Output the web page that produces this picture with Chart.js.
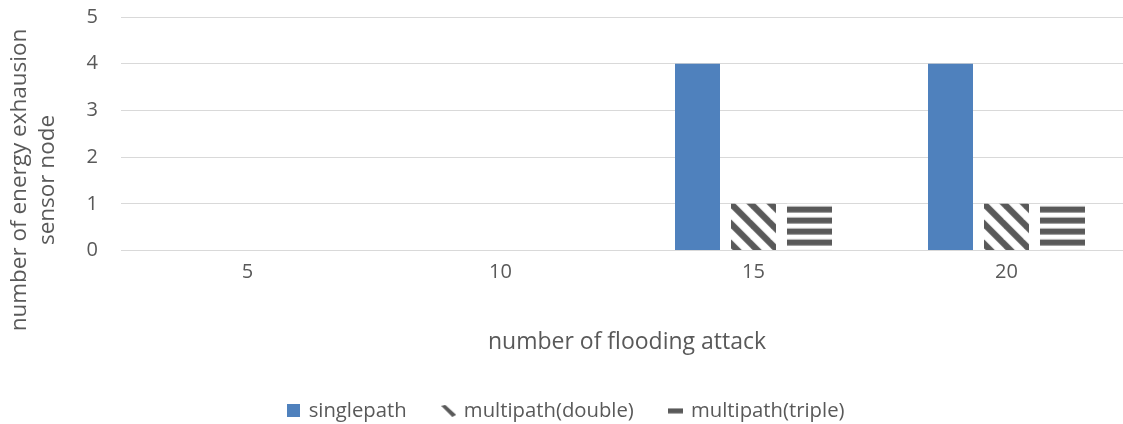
<!DOCTYPE html>
<html>
<head>
<meta charset="utf-8">
<title>Energy exhausted sensor nodes vs flooding attacks</title>
<script src="https://cdn.jsdelivr.net/npm/chart.js@4/dist/chart.umd.min.js"></script>
<style>
  html, body { margin: 0; padding: 0; background: #fff; overflow: hidden; }
  #wrap { position: relative; width: 1135px; height: 440px; }
</style>
</head>
<body>
<div id="wrap"><canvas id="c"></canvas></div>
<script>
// ---- data ----
const categories = ['5', '10', '15', '20'];
const singlepath = [0, 0, 4, 4];
const multipathDouble = [0, 0, 1, 1];
const multipathTriple = [0, 0, 1, 1];
const seriesNames = ['singlepath', 'multipath(double)', 'multipath(triple)'];
const yTickMin = 0, yTickMax = 5, yTickStep = 1;
const xTitle = 'number of flooding attack';
const yTitleLines = ['number of energy exhausion', 'sensor node'];

// ---- styles ----
const INK = '#595959';
const BLUE = '#4f81bd';
const GRID = '#d9d9d9';
const FONT = "'Open Sans', sans-serif";

function makeCanvas(w, h, paint) {
  const c = document.createElement('canvas');
  c.width = w; c.height = h;
  paint(c.getContext('2d'));
  return c;
}

// downward diagonal stripes (20px period along x)
const diagTile = makeCanvas(20, 20, g => {
  g.fillStyle = '#fff'; g.fillRect(0, 0, 20, 20);
  g.fillStyle = INK;
  for (let k = -2; k <= 1; k++) {
    const a = 15.5 + 20 * k;
    g.beginPath();
    g.moveTo(a, 0); g.lineTo(a + 9, 0); g.lineTo(a + 29, 20); g.lineTo(a + 20, 20);
    g.closePath(); g.fill();
  }
});

// horizontal stripes (11px period)
const horizTile = makeCanvas(4, 11, g => {
  g.fillStyle = '#fff'; g.fillRect(0, 0, 4, 11);
  g.fillStyle = INK; g.fillRect(0, 2.7, 4, 6);
});

const canvas = document.getElementById('c');
const ctx = canvas.getContext('2d');
const patternsFor = (t, n) => Array.from({ length: n }, () => ctx.createPattern(t, 'repeat'));
const doublePatterns = patternsFor(diagTile, categories.length);
const triplePatterns = patternsFor(horizTile, categories.length);

// legend icons
const legendIcons = [
  makeCanvas(13, 13, g => { g.fillStyle = BLUE; g.fillRect(0, 0, 13, 13); }),
  makeCanvas(15, 12, g => {
    g.fillStyle = INK; g.beginPath();
    g.moveTo(0, 1); g.lineTo(4, 0); g.lineTo(15, 10); g.lineTo(11, 12);
    g.closePath(); g.fill();
  }),
  makeCanvas(15, 6, g => { g.fillStyle = INK; g.fillRect(0, 0.5, 15, 5); })
];

// anchor each bar's fill pattern to the bar's own top-left corner
const anchorPatterns = {
  id: 'anchorPatterns',
  beforeDatasetsDraw(chart) {
    chart.data.datasets.forEach((ds, i) => {
      if (!Array.isArray(ds.backgroundColor)) return;
      chart.getDatasetMeta(i).data.forEach((bar, j) => {
        const p = ds.backgroundColor[j];
        if (!p || !p.setTransform) return;
        const { x, y, base, width } = bar.getProps(['x', 'y', 'base', 'width'], true);
        p.setTransform(new DOMMatrix([1, 0, 0, 1, x - width / 2, Math.min(y, base)]));
      });
    });
  }
};

// two-line rotated value-axis title
const yTitlePlugin = {
  id: 'yTitle',
  afterDraw(chart, args, opts) {
    const g = chart.ctx;
    g.save();
    g.translate(opts.x, opts.y);
    g.rotate(-Math.PI / 2);
    g.font = `${opts.size}px ${FONT}`;
    g.fillStyle = INK;
    g.textAlign = 'center';
    g.textBaseline = 'middle';
    opts.lines.forEach((t, i) => g.fillText(t, 0, i * opts.lineGap));
    g.restore();
  }
};

new Chart(ctx, {
  type: 'bar',
  data: {
    labels: categories,
    datasets: [
      { label: seriesNames[0], data: singlepath, backgroundColor: BLUE },
      { label: seriesNames[1], data: multipathDouble, backgroundColor: doublePatterns },
      { label: seriesNames[2], data: multipathTriple, backgroundColor: triplePatterns }
    ]
  },
  plugins: [anchorPatterns, yTitlePlugin],
  options: {
    responsive: true,
    maintainAspectRatio: false,
    animation: false,
    devicePixelRatio: 1,
    layout: { padding: { left: 0, right: 2, top: 17, bottom: 9 } },
    datasets: {
      bar: { categoryPercentage: 0.664, barPercentage: 0.8036, borderWidth: 0 }
    },
    plugins: {
      tooltip: { enabled: false },
      legend: {
        position: 'bottom',
        labels: {
          color: INK,
          font: { family: FONT, size: 20.3 },
          usePointStyle: true,
          pointStyleWidth: 10,
          boxHeight: 13,
          padding: 37,
          generateLabels(chart) {
            const items = Chart.defaults.plugins.legend.labels.generateLabels(chart);
            items.forEach((it, i) => { it.pointStyle = legendIcons[i]; });
            return items;
          }
        }
      },
      yTitle: { lines: yTitleLines, x: 20, y: 180, lineGap: 28, size: 22.5 }
    },
    scales: {
      x: {
        grid: { display: false, drawTicks: false },
        border: { display: false },
        ticks: { color: INK, font: { family: FONT, size: 20 }, padding: 10 },
        title: {
          display: true, text: xTitle, color: INK,
          font: { family: FONT, size: 23 },
          padding: { top: 0, bottom: 7.7 }
        },
        afterFit(s) { s.height = 113.2; s.paddingLeft = 0; s.paddingRight = 0; }
      },
      y: {
        min: yTickMin, max: yTickMax,
        ticks: { stepSize: yTickStep, color: INK, font: { family: FONT, size: 20 }, padding: 23 },
        grid: { color: GRID, lineWidth: 1, drawTicks: false },
        border: { display: false },
        afterFit(s) { s.width = 121; s.paddingTop = 0; s.paddingBottom = 0; }
      }
    }
  }
});
</script>
</body>
</html>
